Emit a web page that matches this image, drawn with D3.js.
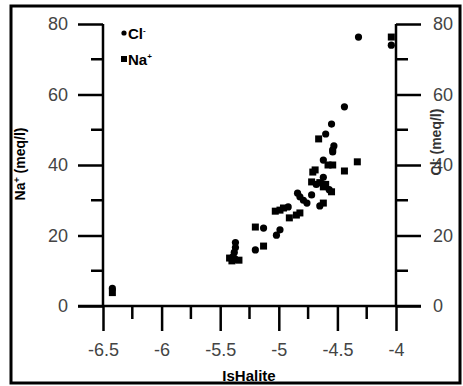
<!DOCTYPE html>
<html>
<head>
<meta charset="utf-8">
<script src="https://cdn.jsdelivr.net/npm/d3@7"></script>
<style>
  body { margin: 0; background: #fff; }
  svg { display: block; font-family: "Liberation Sans", Arial, sans-serif; }
</style>
</head>
<body>
<div id="chart"></div>
<script>
// Cl- readings: [IsHalite, meq/l]
var clPoints = [
  [-6.42, 5.0], [-5.37, 18.0], [-5.37, 16.6], [-5.38, 15.2], [-5.39, 14.0],
  [-5.20, 15.9], [-5.13, 22.1], [-5.02, 20.1], [-4.99, 21.6], [-4.92, 28.1],
  [-4.84, 32.0], [-4.82, 31.0], [-4.79, 30.0], [-4.76, 29.2], [-4.72, 31.5],
  [-4.68, 34.5], [-4.65, 28.4], [-4.62, 36.5], [-4.57, 33.0], [-4.62, 41.4],
  [-4.54, 43.7], [-4.54, 44.3], [-4.53, 45.4], [-4.60, 48.8], [-4.55, 51.6],
  [-4.44, 56.5], [-4.32, 76.3], [-4.04, 74.0]
];
// Na+ readings: [IsHalite, meq/l]
var naPoints = [
  [-6.42, 3.8], [-5.42, 13.6], [-5.38, 13.2], [-5.34, 13.0], [-5.40, 12.8],
  [-5.20, 22.4], [-5.13, 17.0], [-5.03, 26.9], [-4.99, 27.2], [-4.96, 27.8],
  [-4.91, 25.0], [-4.85, 25.8], [-4.82, 26.4], [-4.72, 35.2], [-4.71, 38.0],
  [-4.66, 47.4], [-4.65, 35.0], [-4.62, 33.8], [-4.55, 32.4], [-4.62, 29.2],
  [-4.58, 40.0], [-4.54, 40.0], [-4.69, 38.6], [-4.44, 38.3], [-4.33, 40.9],
  [-4.04, 76.3], [-4.60, 34.5]
];
var xTicks = [-6.5, -6, -5.5, -5, -4.5, -4];
var xMinor = [-6.25, -5.75, -5.25, -4.75, -4.25];
var yTicks = [0, 20, 40, 60, 80];
var yMinor = [10, 30, 50, 70];

var width = 463, height = 386;
var svg = d3.select('#chart').append('svg')
  .attr('width', width).attr('height', height);

// frame round the whole figure
svg.append('rect')
  .attr('x', 11).attr('y', 6).attr('width', 449).attr('height', 377)
  .attr('fill', 'none').attr('stroke', '#000').attr('stroke-width', 3);

var x = d3.scaleLinear().domain([-6.5, -4]).range([103, 396]);
var y = d3.scaleLinear().domain([0, 80]).range([306, 24]);

var tickColor = '#444';

// left axis
var left = svg.append('g').attr('transform', 'translate(103,0)');
left.call(d3.axisLeft(y).tickValues(yTicks).tickSize(25).tickPadding(10).tickFormat(d3.format('d')));
left.selectAll('.tick.minor').data(yMinor).enter().append('line')
  .attr('y1', function(d) { return y(d); }).attr('y2', function(d) { return y(d); })
  .attr('x1', -12).attr('x2', 0);

// right axis
var right = svg.append('g').attr('transform', 'translate(396,0)');
right.call(d3.axisRight(y).tickValues(yTicks).tickSize(25).tickPadding(12).tickFormat(d3.format('d')));
right.selectAll('.tick.minor').data(yMinor).enter().append('line')
  .attr('y1', function(d) { return y(d); }).attr('y2', function(d) { return y(d); })
  .attr('x1', 0).attr('x2', 12);

// bottom axis
var bottom = svg.append('g').attr('transform', 'translate(0,306)');
bottom.call(d3.axisBottom(x).tickValues(xTicks).tickSize(25).tickPadding(12).tickFormat(function(d) { return d; }));
bottom.selectAll('.tick.minor').data(xMinor).enter().append('line')
  .attr('x1', function(d) { return x(d); }).attr('x2', function(d) { return x(d); })
  .attr('y1', 0).attr('y2', 13);

[left, right, bottom].forEach(function(g) {
  g.select('.domain').attr('stroke', '#000').attr('stroke-width', 2.5);
  g.selectAll('line').attr('stroke', '#000').attr('stroke-width', 2.5);
  g.selectAll('text').attr('font-size', 18).attr('fill', tickColor)
    .attr('font-family', '"Liberation Sans", Arial, sans-serif');
});
// axis lines run through the corners like the original
left.select('.domain').attr('d', 'M0,' + y(80) + 'V' + y(0));
right.select('.domain').attr('d', 'M0,' + y(80) + 'V' + y(0));
bottom.select('.domain').attr('d', 'M' + (x(-6.5) - 25) + ',0H' + (x(-4) + 25));

// axis titles
svg.append('text')
  .attr('transform', 'translate(25,164) rotate(-90)')
  .attr('text-anchor', 'middle').attr('font-size', 14).attr('font-weight', 'bold')
  .html('Na<tspan dy="-5" font-size="9">+</tspan><tspan dy="5"> (meq/l)</tspan>');
svg.append('text')
  .attr('transform', 'translate(441,142) rotate(-90)')
  .attr('text-anchor', 'middle').attr('font-size', 14).attr('font-weight', 'bold')
  .attr('fill', '#333')
  .html('Cl<tspan dy="-5" font-size="9">-</tspan><tspan dy="5"> (meq/l)</tspan>');
svg.append('text')
  .attr('x', 249).attr('y', 381)
  .attr('text-anchor', 'middle').attr('font-size', 15).attr('font-weight', 'bold')
  .text('IsHalite');

// data marks
svg.selectAll('.na').data(naPoints).enter().append('rect')
  .attr('class', 'na')
  .attr('x', function(d) { return x(d[0]) - 3.5; })
  .attr('y', function(d) { return y(d[1]) - 3.5; })
  .attr('width', 7).attr('height', 7).attr('fill', '#000');
svg.selectAll('.cl').data(clPoints).enter().append('circle')
  .attr('class', 'cl')
  .attr('cx', function(d) { return x(d[0]); })
  .attr('cy', function(d) { return y(d[1]); })
  .attr('r', 3.6).attr('fill', '#000');

// legend
var legend = svg.append('g');
legend.append('circle').attr('cx', 124).attr('cy', 33).attr('r', 2.6).attr('fill', '#000');
legend.append('text').attr('x', 128).attr('y', 39)
  .attr('font-size', 15).attr('font-weight', 'bold')
  .html('Cl<tspan dy="-6" font-size="8">-</tspan>');
legend.append('rect').attr('x', 121).attr('y', 56).attr('width', 6).attr('height', 6).attr('fill', '#000');
legend.append('text').attr('x', 128).attr('y', 65)
  .attr('font-size', 15).attr('font-weight', 'bold')
  .html('Na<tspan dy="-6" font-size="8">+</tspan>');
</script>
</body>
</html>
